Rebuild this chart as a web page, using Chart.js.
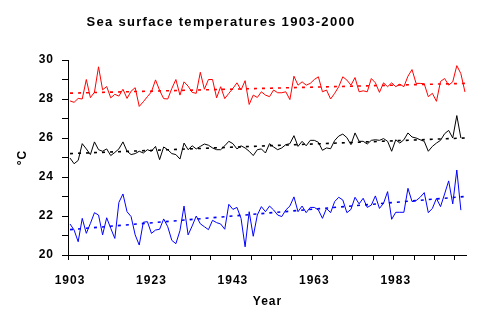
<!DOCTYPE html>
<html>
<head>
<meta charset="utf-8">
<script src="https://cdn.jsdelivr.net/npm/chart.js@4/dist/chart.umd.min.js"></script>
<style>
  html, body { margin: 0; padding: 0; background: #fff; }
  #wrap { width: 478px; height: 325px; }
</style>
</head>
<body>
<div id="wrap"><canvas id="sstChart" width="478" height="325"></canvas></div>
<script>
const firstYear = 1903;
const lastYear = 2000;
const tickYears = ['1903', '1923', '1943', '1963', '1983'];

// yearly values, 1903 onwards
const redSeries = [
    27.9, 27.83, 28.03, 28.0, 29.0, 28.07, 28.35, 29.65, 28.47, 28.64,
    28.06, 28.24, 28.15, 28.5, 28.03, 28.4, 28.58, 27.62, 27.86, 28.12,
    28.37, 28.98, 28.44, 28.02, 28.0, 28.54, 29.0, 28.2, 28.88, 28.66,
    28.34, 28.29, 29.37, 28.5, 29.0, 29.0, 28.06, 28.63, 28.02, 28.29,
    28.54, 28.83, 28.46, 28.94, 27.72, 28.2, 28.08, 28.37, 28.2, 28.12,
    28.46, 28.32, 28.32, 28.37, 27.97, 29.17, 28.71, 28.88, 28.71, 28.8,
    29.0, 29.14, 28.37, 28.46, 28.0, 28.29, 28.63, 29.14, 28.97, 28.71,
    29.1, 28.37, 28.42, 28.37, 29.05, 28.83, 28.34, 28.83, 28.63, 28.83,
    28.63, 28.76, 28.63, 29.17, 29.51, 28.8, 28.8, 28.78, 28.12, 28.29,
    27.88, 28.9, 29.05, 28.71, 28.88, 29.71, 29.3, 28.36
];
const blackSeries = [
    24.97, 24.68, 24.85, 25.71, 25.44, 25.15, 25.8, 25.4, 25.32, 25.44,
    25.1, 25.26, 25.44, 25.8, 25.32, 25.15, 25.2, 25.32, 25.23, 25.4,
    25.32, 25.57, 24.89, 25.54, 25.4, 25.2, 25.15, 24.92, 25.74, 25.4,
    25.6, 25.44, 25.57, 25.69, 25.63, 25.49, 25.4, 25.4, 25.6, 25.83,
    25.71, 25.44, 25.6, 25.49, 25.32, 25.1, 25.4, 25.44, 25.23, 25.71,
    25.54, 25.4, 25.49, 25.66, 25.71, 26.12, 25.57, 25.83, 25.6, 25.88,
    25.88, 25.78, 25.37, 25.49, 25.45, 25.87, 26.1, 26.2, 26.02, 25.66,
    26.26, 25.83, 25.83, 25.69, 25.88, 25.91, 25.88, 25.97, 25.83, 25.32,
    25.91, 25.74, 25.91, 26.26, 26.05, 26.0, 25.91, 25.83, 25.32, 25.57,
    25.74, 25.88, 26.22, 26.39, 26.0, 27.15, 26.0, null
];
const blueSeries = [
    21.59, 21.28, 20.68, 21.88, 21.11, 21.62, 22.17, 22.05, 21.03, 21.91,
    21.37, 20.85, 22.7, 23.13, 22.22, 21.97, 21.03, 20.51, 21.68, 21.71,
    21.11, 21.28, 21.32, 21.85, 21.45, 20.75, 20.58, 21.25, 22.51, 21.03,
    21.49, 22.0, 21.6, 21.45, 21.3, 21.78, 21.66, 21.59, 21.32, 22.6,
    22.34, 22.44, 21.88, 20.42, 22.22, 20.96, 22.05, 22.48, 22.22, 22.51,
    22.31, 22.05, 21.97, 22.31, 22.51, 22.98, 22.22, 22.51, 22.17, 22.44,
    22.44, 22.31, 21.88, 22.39, 22.17, 22.74, 22.96, 22.82, 22.17, 22.34,
    22.96, 22.62, 22.91, 22.44, 22.56, 23.03, 22.39, 22.65, 23.25, 21.83,
    22.19, 22.19, 22.19, 23.42, 22.74, 22.79, 22.96, 23.2, 22.17, 22.39,
    22.9, 22.48, 23.13, 23.8, 22.62, 24.36, 22.3, null
];

// dotted trend lines, value at 1903 and at 2000
const redTrend = [28.3, 28.8];
const blackTrend = [25.2, 26.0];
const blueTrend = [21.3, 23.0];

const years = [];
for (let y = firstYear; y <= lastYear; y++) years.push(String(y));

function trendData(ends) {
    const arr = years.map(() => null);
    arr[0] = ends[0];
    arr[arr.length - 1] = ends[1];
    return arr;
}

const boldFont = { family: '"Liberation Sans", Arial, sans-serif', size: 12, weight: 'bold' };

const spacingPlugin = {
    id: 'spacing',
    beforeDraw(chart) {
        chart.ctx.letterSpacing = '1px';
    },
};

const titlePlugin = {
    id: 'plainTitle',
    afterDraw(chart) {
        const ctx = chart.ctx;
        ctx.save();
        ctx.letterSpacing = '1.3px';
        ctx.font = 'bold 13px "Liberation Sans", Arial, sans-serif';
        ctx.fillStyle = '#000';
        ctx.textAlign = 'center';
        ctx.textBaseline = 'middle';
        ctx.fillText('Sea surface temperatures 1903-2000', 221, 22);
        ctx.restore();
    },
};

function lineSet(data, color) {
    return {
        data,
        borderColor: color,
        borderWidth: 1,
        pointRadius: 0,
        tension: 0,
        fill: false,
    };
}

function trendSet(ends, color) {
    return {
        data: trendData(ends),
        borderColor: color,
        borderWidth: 1.6,
        borderDash: [3, 5],
        pointRadius: 0,
        spanGaps: true,
        fill: false,
    };
}

new Chart(document.getElementById('sstChart').getContext('2d'), {
    type: 'line',
    data: {
        labels: years,
        datasets: [
            trendSet(redTrend, '#ff0000'),
            trendSet(blackTrend, '#000000'),
            trendSet(blueTrend, '#0000ff'),
            lineSet(redSeries, '#ff0000'),
            lineSet(blackSeries, '#000000'),
            lineSet(blueSeries, '#0000ff'),
        ],
    },
    options: {
        responsive: false,
        animation: false,
        layout: { padding: { top: 60, right: 9, left: 0, bottom: 0 } },
        plugins: {
            legend: { display: false },
            tooltip: { enabled: false },
        },
        scales: {
            x: {
                type: 'category',
                offset: true,
                afterFit: (scale) => { scale.height = 70; },
                grid: {
                    offset: true,
                    drawOnChartArea: false,
                    tickLength: 5,
                    tickColor: (c) => (c.index % 5 === 0 ? '#000' : 'rgba(0,0,0,0)'),
                },
                border: { display: true, color: '#000', width: 1 },
                ticks: {
                    autoSkip: false,
                    maxRotation: 0,
                    padding: 13,
                    color: '#000',
                    font: boldFont,
                    callback: function (val) {
                        const lbl = this.getLabelForValue(val);
                        return tickYears.includes(lbl) ? lbl : '';
                    },
                },
                title: {
                    display: true,
                    text: 'Year',
                    color: '#000',
                    font: boldFont,
                    padding: { top: 0, bottom: 16 },
                },
            },
            y: {
                min: 20,
                max: 30,
                afterFit: (scale) => { scale.width = 68; },
                grid: {
                    drawOnChartArea: false,
                    tickLength: 6,
                    tickColor: '#000',
                },
                border: { display: true, color: '#000', width: 1 },
                ticks: {
                    stepSize: 1,
                    padding: 8,
                    color: '#000',
                    font: boldFont,
                    callback: (v) => (v % 2 === 0 ? v : ''),
                },
                title: {
                    display: true,
                    text: '°C',
                    color: '#000',
                    font: boldFont,
                    padding: { top: 15, bottom: 0 },
                },
            },
        },
    },
    plugins: [spacingPlugin, titlePlugin],
});
</script>
</body>
</html>
